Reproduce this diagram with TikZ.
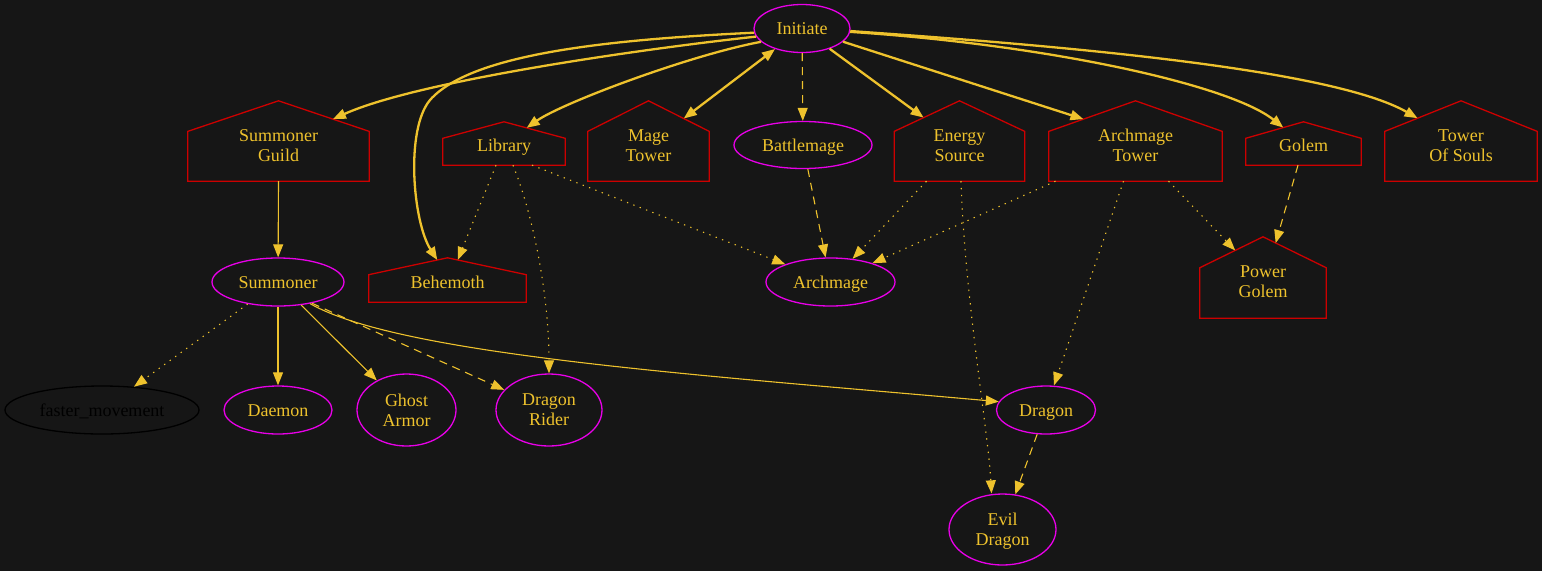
\documentclass[tikz,border=0pt]{standalone}
\usepackage{fontspec}
\setmainfont{Liberation Serif}
\usetikzlibrary{shapes.geometric,arrows.meta,calc}
\definecolor{bgc}{RGB}{22,22,22}
\definecolor{gold}{RGB}{238,194,45}
\definecolor{magc}{RGB}{232,0,232}
\definecolor{redc}{RGB}{205,0,0}
\tikzset{
  lbl/.style={font=\fontsize{18}{20}\selectfont, text=gold, align=center, inner sep=0pt},
  one/.style={text height=12.3pt, text depth=0pt},
  oval/.style={lbl, ellipse, draw=magc, line width=1.3pt},
  blackoval/.style={oval, draw=black, text=black},
  house/.style={lbl, rectangle},
  houseline/.style={draw=redc, line width=1.3pt, line join=miter},
  thinedge/.style={draw=gold, line width=1.1pt, -{Triangle[length=13pt,width=10pt]}},
  thickedge/.style={draw=gold, line width=2.3pt, -{Triangle[length=13pt,width=10pt]}},
  dotedge/.style={thinedge, dash pattern=on 1.3pt off 5.5pt},
  dashedge/.style={thinedge, dash pattern=on 8pt off 6pt},
}
\begin{document}
\begin{tikzpicture}[x=1pt,y=-1pt]
\fill[bgc] (0,0) rectangle (1542,571);
\useasboundingbox (0,0) rectangle (1542,571);
% nodes (house nodes are placed 2pt / 4.5pt below the outline centre, as their labels are)
\node[oval, one, minimum width=96pt, minimum height=48pt] (ini) at (802,28.5) {Initiate};
\node[house, minimum width=181pt, minimum height=80pt] (sg) at (278.5,145.5) {Summoner\\Guild};
\node[house, one, minimum width=122pt, minimum height=43pt] (lib) at (504,145.5) {Library};
\node[house, minimum width=121pt, minimum height=80pt] (mt) at (648.5,145.5) {Mage\\Tower};
\node[oval, one, minimum width=138pt, minimum height=47pt] (bm) at (803,145) {Battlemage};
\node[house, minimum width=130pt, minimum height=80pt] (es) at (959.5,145.5) {Energy\\Source};
\node[house, minimum width=173pt, minimum height=80pt] (at) at (1135.5,145.5) {Archmage\\Tower};
\node[house, one, minimum width=115pt, minimum height=43pt] (gol) at (1303.5,145.5) {Golem};
\node[house, minimum width=152pt, minimum height=80pt] (tos) at (1461,145.5) {Tower\\Of Souls};
\node[oval, one, minimum width=132pt, minimum height=48pt] (sum) at (278,282) {Summoner};
\node[house, one, minimum width=157pt, minimum height=44pt] (beh) at (447.5,282) {Behemoth};
\node[oval, one, minimum width=129pt, minimum height=48pt] (arch) at (830.5,282) {Archmage};
\node[house, minimum width=126pt, minimum height=81pt] (pg) at (1263,281.5) {Power\\Golem};
\node[blackoval, one, minimum width=194pt, minimum height=48pt] (fm) at (102,410) {faster\_movement};
\node[oval, one, minimum width=108pt, minimum height=48pt] (dae) at (278,410) {Daemon};
\node[oval, minimum width=99pt, minimum height=72pt] (ga) at (406.5,410) {Ghost\\Armor};
\node[oval, minimum width=106pt, minimum height=72pt] (dr) at (549,410) {Dragon\\Rider};
\node[oval, one, minimum width=99pt, minimum height=48pt] (drg) at (1046,410) {Dragon};
\node[oval, minimum width=107pt, minimum height=71pt] (ed) at (1002.5,529.5) {Evil\\\raisebox{0pt}[\height][0pt]{Dragon}};
% house outlines
\foreach \n/\s in {sg/4.5,lib/2,mt/4.5,es/4.5,at/4.5,gol/2,tos/4.5,beh/2,pg/4}{
  \coordinate (\n-bl) at ([yshift=\s pt]\n.south west);
  \coordinate (\n-br) at ([yshift=\s pt]\n.south east);
  \coordinate (\n-b) at ([yshift=\s pt]\n.south);
  \coordinate (\n-a) at ([yshift=\s pt]\n.north);
  \coordinate (\n-l) at ($([yshift=\s pt]\n.south west)!0.62!([yshift=\s pt]\n.north west)$);
  \coordinate (\n-r) at ($([yshift=\s pt]\n.south east)!0.62!([yshift=\s pt]\n.north east)$);
  \draw[houseline] (\n-bl) -- (\n-br) -- (\n-r) -- (\n-a) -- (\n-l) -- cycle;
}
% edges from Initiate
\draw[thickedge] (ini.190) .. controls (650,48) and (420,80) .. ($(sg-a)!0.6!(sg-r)$);
\draw[thickedge] (ini.185) .. controls (600,40) and (470,55) .. (430,100) .. controls (405,130) and (413,222) .. ($(beh-a)!0.13!(beh-l)$);
\draw[thickedge] (ini.198) .. controls (690,55) and (562,103) .. ($(lib-a)!0.37!(lib-r)$);
\draw[thickedge, {Triangle[length=13pt,width=10pt]}-{Triangle[length=13pt,width=10pt]}] (ini) -- ($(mt-a)!0.58!(mt-r)$);
\draw[dashedge] (ini) -- (bm);
\draw[thickedge] (ini) -- ($(es-a)!0.55!(es-l)$);
\draw[thickedge] (ini) -- ($(at-a)!0.6!(at-l)$);
\draw[thickedge] (ini.-4) .. controls (1050,45) and (1230,85) .. ($(gol-a)!0.35!(gol-l)$);
\draw[thickedge] (ini.-3) .. controls (1050,45) and (1330,68) .. ($(tos-a)!0.57!(tos-l)$);
% other edges
\draw[thinedge] (sg-b) -- (sum);
\draw[dotedge] ([xshift=-8pt]lib-b) -- ($(beh-a)!0.13!(beh-r)$);
\draw[dotedge] ([xshift=9pt]lib-b) .. controls (535,220) and (549,300) .. (dr);
\draw[dotedge] ([xshift=28pt]lib-b) -- (arch);
\draw[dashedge] (bm) -- (arch);
\draw[dotedge] ([xshift=-33pt]es-b) -- (arch);
\draw[dotedge] ([xshift=1.5pt]es-b) .. controls (965,300) and (988,430) .. ([xshift=-11pt]ed.north);
\draw[dotedge] ([xshift=-80pt]at-b) -- (arch);
\draw[dotedge] ([xshift=-12pt]at-b) -- ([xshift=8pt]drg.north);
\draw[dotedge] ([xshift=33pt]at-b) -- ($(pg-a)!0.44!(pg-l)$);
\draw[dashedge] ([xshift=-5.5pt]gol-b) -- ($(pg-a)!0.2!(pg-r)$);
\draw[dotedge] (sum.216) -- (fm);
\draw[thinedge] (sum) -- (dae);
\draw[thinedge] (sum) -- (ga);
\draw[dashedge] (sum.-32) -- (dr);
\draw[thinedge] (sum.-34) .. controls (400,355) and (700,375) .. (drg.170);
\draw[dashedge] (drg) -- (ed);
\end{tikzpicture}
\end{document}
